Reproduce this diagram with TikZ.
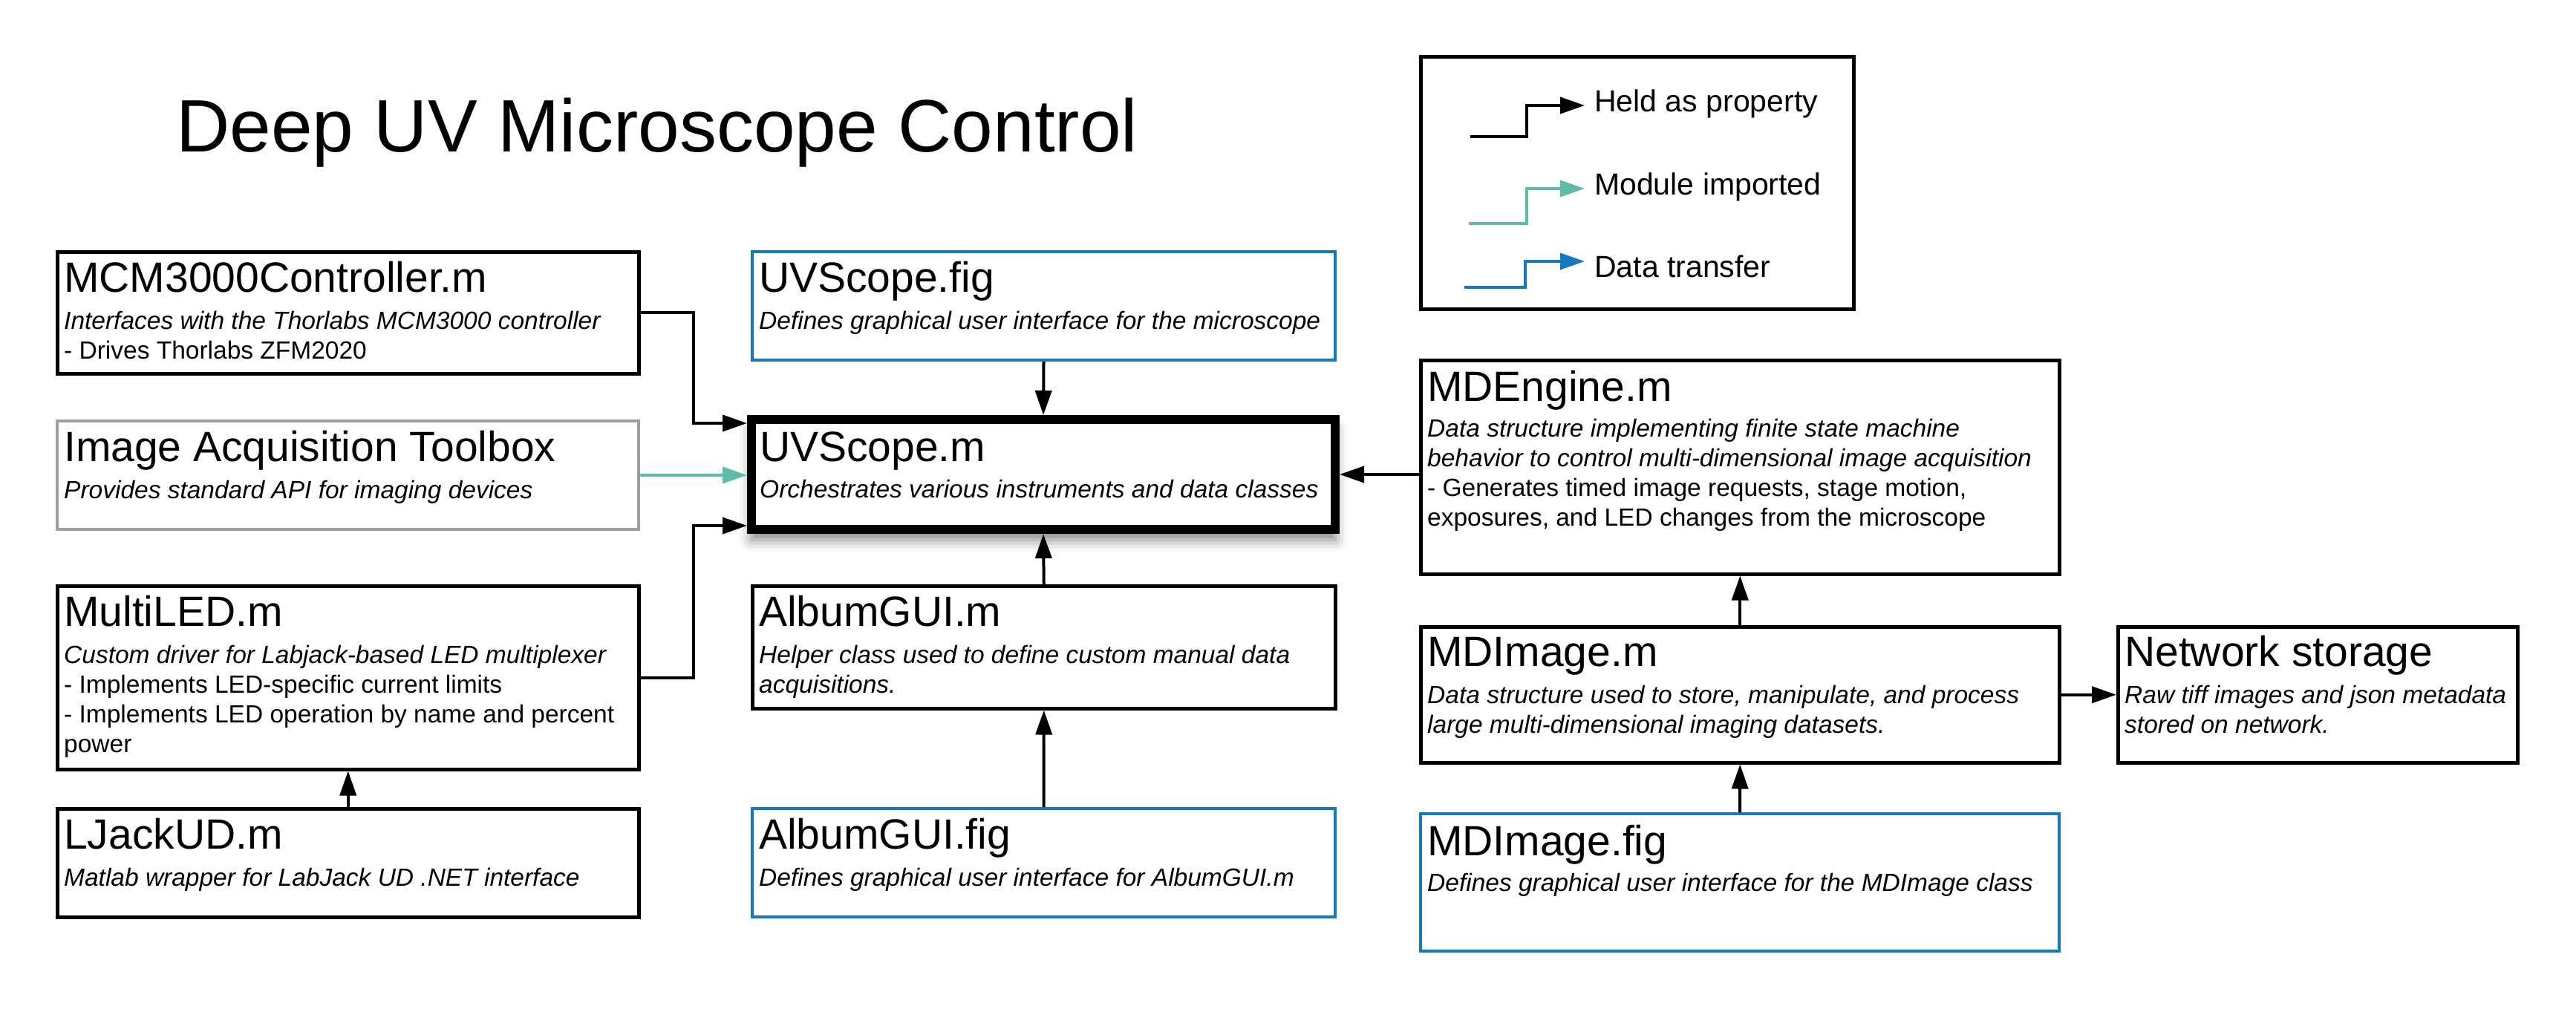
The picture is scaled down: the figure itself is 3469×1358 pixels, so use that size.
\documentclass[tikz,border=0pt]{standalone}
\usepackage{fontspec}
\setmainfont{Liberation Sans}
\usetikzlibrary{arrows.meta,calc,shadows.blur}
\definecolor{teal1}{HTML}{5DBBA7}
\definecolor{blue1}{HTML}{1479BE}
\definecolor{gray1}{HTML}{9E9E9E}
\begin{document}
\begin{tikzpicture}[x=1pt,y=-1pt,
  box/.style={draw=black, line width=4.5pt, anchor=north west, inner sep=0pt, fill=white},
  figbox/.style={box, draw=blue1, line width=4pt},
  graybox/.style={box, draw=gray1, line width=4pt},
  mainbox/.style={box, line width=12pt, blur shadow={shadow xshift=0pt, shadow yshift=-14pt, shadow blur radius=16pt, shadow opacity=50}},
  ttl/.style={anchor=base west, inner sep=0pt, font=\fontsize{57}{68}\selectfont},
  sub/.style={anchor=base west, inner sep=0pt, font=\fontsize{33.5}{40}\selectfont\itshape},
  txt/.style={anchor=base west, inner sep=0pt, font=\fontsize{33.5}{40}\selectfont},
  leg/.style={anchor=base west, inner sep=0pt, font=\fontsize{41}{49}\selectfont},
  held/.style={line width=4pt, draw=black, -{Triangle[length=33pt,width=22pt]}},
  imported/.style={held, draw=teal1, line width=3.5pt},
  transfer/.style={held, draw=blue1, line width=3.5pt}
]
\useasboundingbox (0,0) rectangle (3469,1358);

% title
\node[anchor=base west, inner sep=0pt, font=\fontsize{100}{120}\selectfont] (title) at (237,204) {Deep UV Microscope Control};

% legend
\node[box, minimum width=583pt, minimum height=340pt] (legend) at (1911,74) {};
\coordinate (l1a) at (1980,184); \coordinate (l1b) at (2056,142); \coordinate (l1c) at (2134,142);
\coordinate (l2a) at (1978,301); \coordinate (l2b) at (2056,254); \coordinate (l2c) at (2134,254);
\coordinate (l3a) at (1972,387); \coordinate (l3b) at (2054,352); \coordinate (l3c) at (2134,352);
\draw[held] (l1a) -| (l1b) -- (l1c);
\draw[imported] (l2a) -| (l2b) -- (l2c);
\draw[transfer] (l3a) -| (l3b) -- (l3c);
\node[leg] (leg1) at (2147,150) {Held as property};
\node[leg] (leg2) at (2147,262) {Module imported};
\node[leg] (leg3) at (2147,373) {Data transfer};

% left column
\node[box, minimum width=783pt, minimum height=164pt] (mcm) at (75,337) {};
\node[ttl] (mcmt) at ($(mcm.north west)+(11,56)$) {MCM3000Controller.m};
\node[sub] (mcm1) at ($(mcm.north west)+(11,106)$) {Interfaces with the Thorlabs MCM3000 controller};
\node[txt] (mcm2) at ($(mcm.north west)+(11,146)$) {- Drives Thorlabs ZFM2020};

\node[graybox, minimum width=783pt, minimum height=146pt] (iat) at (75,565) {};
\node[ttl] (iatt) at ($(iat.north west)+(11,56)$) {Image Acquisition Toolbox};
\node[sub] (iat1) at ($(iat.north west)+(11,106)$) {Provides standard API for imaging devices};

\node[box, minimum width=783pt, minimum height=247pt] (mled) at (75,787) {};
\node[ttl] (mledt) at ($(mled.north west)+(11,56)$) {MultiLED.m};
\node[sub] (mled1) at ($(mled.north west)+(11,106)$) {Custom driver for Labjack-based LED multiplexer};
\node[txt] (mled2) at ($(mled.north west)+(11,146)$) {- Implements LED-specific current limits};
\node[txt] (mled3) at ($(mled.north west)+(11,186)$) {- Implements LED operation by name and percent};
\node[txt] (mled4) at ($(mled.north west)+(11,226)$) {power};

\node[box, minimum width=783pt, minimum height=146pt] (ljack) at (75,1087) {};
\node[ttl] (ljackt) at ($(ljack.north west)+(11,56)$) {LJackUD.m};
\node[sub] (ljack1) at ($(ljack.north west)+(11,106)$) {Matlab wrapper for LabJack UD .NET interface};

% middle column
\node[figbox, minimum width=785pt, minimum height=146pt] (uvf) at (1011,337) {};
\node[ttl] (uvft) at ($(uvf.north west)+(11,56)$) {UVScope.fig};
\node[sub] (uvf1) at ($(uvf.north west)+(11,106)$) {Defines graphical user interface for the microscope};

\node[mainbox, minimum width=786pt, minimum height=148pt] (uvm) at (1006,559) {};
\node[ttl] (uvmt) at ($(uvm.north west)+(17,62)$) {UVScope.m};
\node[sub] (uvm1) at ($(uvm.north west)+(17,111)$) {Orchestrates various instruments and data classes};

\node[box, minimum width=785pt, minimum height=165pt] (agm) at (1011,787) {};
\node[ttl] (agmt) at ($(agm.north west)+(11,56)$) {AlbumGUI.m};
\node[sub] (agm1) at ($(agm.north west)+(11,106)$) {Helper class used to define custom manual data};
\node[sub] (agm2) at ($(agm.north west)+(11,146)$) {acquisitions.};

\node[figbox, minimum width=785pt, minimum height=146pt] (agf) at (1011,1087) {};
\node[ttl] (agft) at ($(agf.north west)+(11,56)$) {AlbumGUI.fig};
\node[sub] (agf1) at ($(agf.north west)+(11,106)$) {Defines graphical user interface for AlbumGUI.m};

% right column
\node[box, minimum width=860pt, minimum height=288pt] (mde) at (1911,483) {};
\node[ttl] (mdet) at ($(mde.north west)+(11,57)$) {MDEngine.m};
\node[sub] (mde1) at ($(mde.north west)+(11,105)$) {Data structure implementing finite state machine};
\node[sub] (mde2) at ($(mde.north west)+(11,145)$) {behavior to control multi-dimensional image acquisition};
\node[txt] (mde3) at ($(mde.north west)+(11,185)$) {- Generates timed image requests, stage motion,};
\node[txt] (mde4) at ($(mde.north west)+(11,225)$) {exposures, and LED changes from the microscope};

\node[box, minimum width=860pt, minimum height=183pt] (mdi) at (1911,842) {};
\node[ttl] (mdit) at ($(mdi.north west)+(11,55)$) {MDImage.m};
\node[sub] (mdi1) at ($(mdi.north west)+(11,105)$) {Data structure used to store, manipulate, and process};
\node[sub] (mdi2) at ($(mdi.north west)+(11,145)$) {large multi-dimensional imaging datasets.};

\node[box, minimum width=538pt, minimum height=183pt] (net) at (2850,842) {};
\node[ttl] (nett) at ($(net.north west)+(11,55)$) {Network storage};
\node[sub] (net1) at ($(net.north west)+(11,105)$) {Raw tiff images and json metadata};
\node[sub] (net2) at ($(net.north west)+(11,145)$) {stored on network.};

\node[figbox, minimum width=860pt, minimum height=185pt] (mdf) at (1911,1094) {};
\node[ttl] (mdft) at ($(mdf.north west)+(11,58)$) {MDImage.fig};
\node[sub] (mdf1) at ($(mdf.north west)+(11,106)$) {Defines graphical user interface for the MDImage class};

% connectors
\coordinate (bend) at (934,0);
\draw[held] (mcm.east) -- (mcm.east -| bend) |- ($(uvm.north west)+(0,11)$);
\draw[held] (mled.east) -- (mled.east -| bend) |- ($(uvm.south west)+(0,-11)$);
\draw[imported] (iat.east) -- (iat.east -| uvm.west);
\draw[held] (uvf.south) -- (uvm.north);
\draw[held] (agm.north) -- (uvm.south);
\draw[held] (agf.north) -- (agm.south);
\draw[held] (uvm.east -| mde.west) -- (uvm.east);
\draw[held] (mdi.north) -- (mde.south);
\draw[held] (mdf.north) -- (mdi.south);
\draw[held] (mdi.east) -- (mdi.east -| net.west);
\draw[held] (ljack.north) -- (mled.south);
\end{tikzpicture}
\end{document}
